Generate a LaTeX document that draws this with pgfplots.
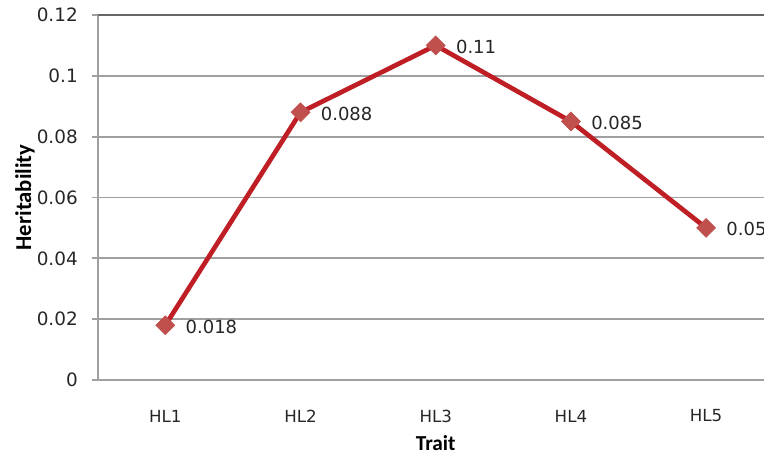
\documentclass[border=0pt]{standalone}
\usepackage{pgfplots}
\pgfplotsset{compat=1.18}
\usepackage{fontspec}
\setmainfont{DejaVu Sans}
\newfontfamily\carlito{Carlito}
\definecolor{gridc}{HTML}{A0A0A0}
\definecolor{linec}{HTML}{BE1E24}
\definecolor{markc}{HTML}{C0504D}
\definecolor{txt}{HTML}{262626}
\begin{document}
\begin{tikzpicture}
\begin{axis}[
  name=ax,
  scale only axis,
  width=507pt, height=273.75pt,
  xmin=0.5, xmax=5.5, ymin=0, ymax=0.12,
  xtick={1,2,3,4,5}, xticklabels={HL1,HL2,HL3,HL4,HL5},
  ytick={0,0.02,0.04,0.06,0.08,0.1,0.12},
  yticklabels={0,0.02,0.04,0.06,0.08,0.1,0.12},
  extra y ticks={0.12}, extra y tick labels={},
  extra y tick style={grid style={color=gray!80!black, line width=2pt}},
  axis x line*=bottom, axis y line*=left,
  ymajorgrids, grid style={gridc, line width=1.3pt},
  axis line style={gridc, line width=1.3pt},
  major tick length=4.5pt,
  tick align=outside,
  ytick style={gridc, line width=1.3pt},
  xtick style={draw=none},
  yticklabel style={font=\fontsize{13.8}{16}\selectfont, text=txt, inner sep=0pt, anchor=east, xshift=-10.3pt},
  xticklabel style={font=\fontsize{12.5}{15}\selectfont, text=txt, inner sep=0pt, anchor=center, yshift=-22.5pt},
  xlabel={\carlito\bfseries Trait},
  ylabel={\carlito\bfseries Heritability},
  xlabel style={at={(axis description cs:0.5,0)}, anchor=center, yshift=-47pt, font=\fontsize{16}{18}\selectfont, text=black},
  ylabel style={at={(axis description cs:-0.1075,0.5)}, anchor=center, font=\fontsize{17}{18}\selectfont, text=black},
  clip=false,
]
\addplot[linec, line width=3.5pt, mark=square*, mark size=5pt,
  mark options={rotate=45, fill=markc, draw=markc, line width=0.5pt},
  nodes near coords, point meta=explicit symbolic,
  every node near coord/.style={anchor=west, inner sep=0pt, xshift=15pt, yshift=-1pt, font=\fontsize{13.5}{16}\selectfont, text=txt}]
coordinates {
  (1,0.018) [0.018]
  (2,0.088) [0.088]
  (3,0.11) [0.11]
  (4,0.085) [0.085]
  (5,0.05) [0.05]
};
\end{axis}
\pgfresetboundingbox
\path[use as bounding box] ([shift={(-73.3pt,-57.75pt)}]ax.south west) rectangle ([shift={(499.7pt,285pt)}]ax.south west);
\end{tikzpicture}
\end{document}
